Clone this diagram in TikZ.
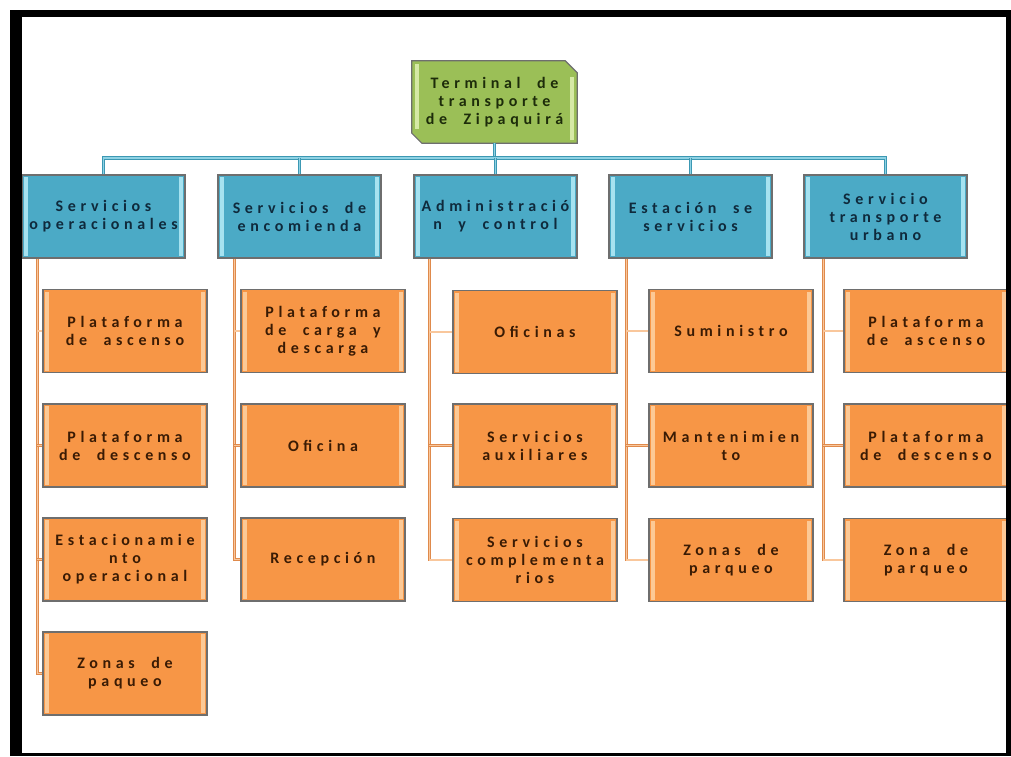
\documentclass[tikz,border=0pt]{standalone}
\usepackage{fontspec}
\setmainfont{Carlito}[LetterSpace=29, WordSpace=2.0]
\definecolor{bluefill}{HTML}{4BAAC6}
\definecolor{bluelight}{HTML}{A6E2F0}
\definecolor{orangefill}{HTML}{F79646}
\definecolor{orangelight}{HTML}{FCC996}
\definecolor{greenfill}{HTML}{9BBF57}
\definecolor{greenlight}{HTML}{D6E9A6}
\definecolor{boxline}{HTML}{6E6E6E}
\definecolor{bustone}{HTML}{3C98B3}
\definecolor{buslight}{HTML}{8FD2E4}
\definecolor{orline}{HTML}{DF8A4C}
\definecolor{orlight}{HTML}{F9C79C}
\definecolor{bluetext}{HTML}{0F2A3C}
\definecolor{orangetext}{HTML}{3A1B04}
\definecolor{greentext}{HTML}{1D2C0A}
\begin{document}
\begin{tikzpicture}[x=1pt,y=-1pt,
  txt/.style={font=\fontsize{16}{18}\selectfont\bfseries, align=center, inner sep=0pt},
  stripes/.style={path picture={
    \fill[#1] ([xshift=2pt,yshift=-2pt]path picture bounding box.north west) rectangle ([xshift=6pt,yshift=2pt]path picture bounding box.south west);
    \fill[#1] ([xshift=-2pt,yshift=-2pt]path picture bounding box.north east) rectangle ([xshift=-6pt,yshift=2pt]path picture bounding box.south east);
  }},
  bluebox/.style={txt, draw=boxline, line width=1.2pt, fill=bluefill, stripes=bluelight, text=bluetext, minimum width=163pt, minimum height=83pt},
  orbox/.style={txt, draw=boxline, line width=1.2pt, fill=orangefill, stripes=orangelight, text=orangetext, minimum width=164pt, minimum height=83pt},
  bus/.style={draw=bustone, line width=1pt, double=buslight, double distance=1.8pt},
  orconn/.style={draw=orline, line width=0.8pt, double=orlight, double distance=1.2pt},
]
\useasboundingbox (0,0) rectangle (1011,756);
\fill[white] (0,0) rectangle (1011,756);

% root (frame node; shape drawn below)
\node[txt, minimum width=165pt, minimum height=82pt] (root) at (494.5,102) {};

\coordinate (bus) at (0,158);

% blue boxes
\node[bluebox] (b1) at (103.5,216.5) {Servicios\\operacionales};
\node[bluebox] (b2) at (299.5,216.5) {Servicios de\\encomienda};
\node[bluebox] (b3) at (495.5,216.5) {Administració\\n y control};
\node[bluebox] (b4) at (690.5,216.5) {Estación se\\servicios};
\node[bluebox] (b5) at (885.5,216.5) {Servicio\\transporte\\urbano};

% orange boxes
\node[orbox] (c11) at (125,331) {Plataforma\\de ascenso};
\node[orbox] (c12) at (125,445.5) {Plataforma\\de descenso};
\node[orbox] (c13) at (125,559.5) {Estacionamie\\nto\\operacional};
\node[orbox] (c14) at (125,673.5) {Zonas de\\paqueo};

\node[orbox] (c21) at (323,331) {Plataforma\\de carga y\\descarga};
\node[orbox] (c22) at (323,445.5) {Oficina};
\node[orbox] (c23) at (323,559.5) {Recepción};

\node[orbox] (c31) at (535,332) {Oficinas};
\node[orbox] (c32) at (535,445.5) {Servicios\\auxiliares};
\node[orbox] (c33) at (535,560) {Servicios\\complementa\\rios};

\node[orbox] (c41) at (731,331) {Suministro};
\node[orbox] (c42) at (731,445.5) {Mantenimien\\to};
\node[orbox] (c43) at (731,560) {Zonas de\\parqueo};

\node[orbox] (c51) at (926,331) {Plataforma\\de ascenso};
\node[orbox] (c52) at (926,445.5) {Plataforma\\de descenso};
\node[orbox] (c53) at (926,560) {Zona de\\parqueo};

% root chamfered shape
\fill[greenfill, draw=boxline, line width=1.2pt]
  (root.north west) -- ([xshift=-12pt]root.north east) -- ([yshift=-12pt]root.north east)
  -- (root.south east) -- ([xshift=10pt]root.south west) -- ([yshift=10pt]root.south west) -- cycle;
\fill[greenlight] ([xshift=-7pt,yshift=-16pt]root.north east) rectangle ([xshift=-3pt,yshift=3pt]root.south east);
\fill[greenlight] ([xshift=3pt,yshift=-3pt]root.north west) rectangle ([xshift=7pt,yshift=14pt]root.south west);
\node[txt, text=greentext] (roottext) at (root.center) {Terminal de\\transporte\\de Zipaquirá};

% bus connectors
\draw[bus] (root.south) -- (root.south |- bus);
\draw[bus] (b1.north) -- (b1.north |- bus) -- (b5.north |- bus) -- (b5.north);
\draw[bus] (b2.north) -- (b2.north |- bus);
\draw[bus] (b3.north) -- (b3.north |- bus);
\draw[bus] (b4.north) -- (b4.north |- bus);

% orange connectors
\draw[orconn] ([xshift=16pt]b1.south west) |- (c14.west);
\foreach \c in {c11,c12,c13} \draw[orconn] ([xshift=16pt]b1.south west |- \c.west) -- (\c.west);
\draw[orconn] ([xshift=17pt]b2.south west) |- (c23.west);
\foreach \c in {c21,c22} \draw[orconn] ([xshift=17pt]b2.south west |- \c.west) -- (\c.west);
\draw[orconn] ([xshift=16pt]b3.south west) |- (c33.west);
\foreach \c in {c31,c32} \draw[orconn] ([xshift=16pt]b3.south west |- \c.west) -- (\c.west);
\draw[orconn] ([xshift=18pt]b4.south west) |- (c43.west);
\foreach \c in {c41,c42} \draw[orconn] ([xshift=18pt]b4.south west |- \c.west) -- (\c.west);
\draw[orconn] ([xshift=20pt]b5.south west) |- (c53.west);
\foreach \c in {c51,c52} \draw[orconn] ([xshift=20pt]b5.south west |- \c.west) -- (\c.west);

% black frame
\fill[black] (10,10) rectangle (1011,17);
\fill[black] (10,10) rectangle (22,756);
\fill[black] (1006,10) rectangle (1011,756);
\fill[black] (10,753) rectangle (1011,756);
\end{tikzpicture}
\end{document}
